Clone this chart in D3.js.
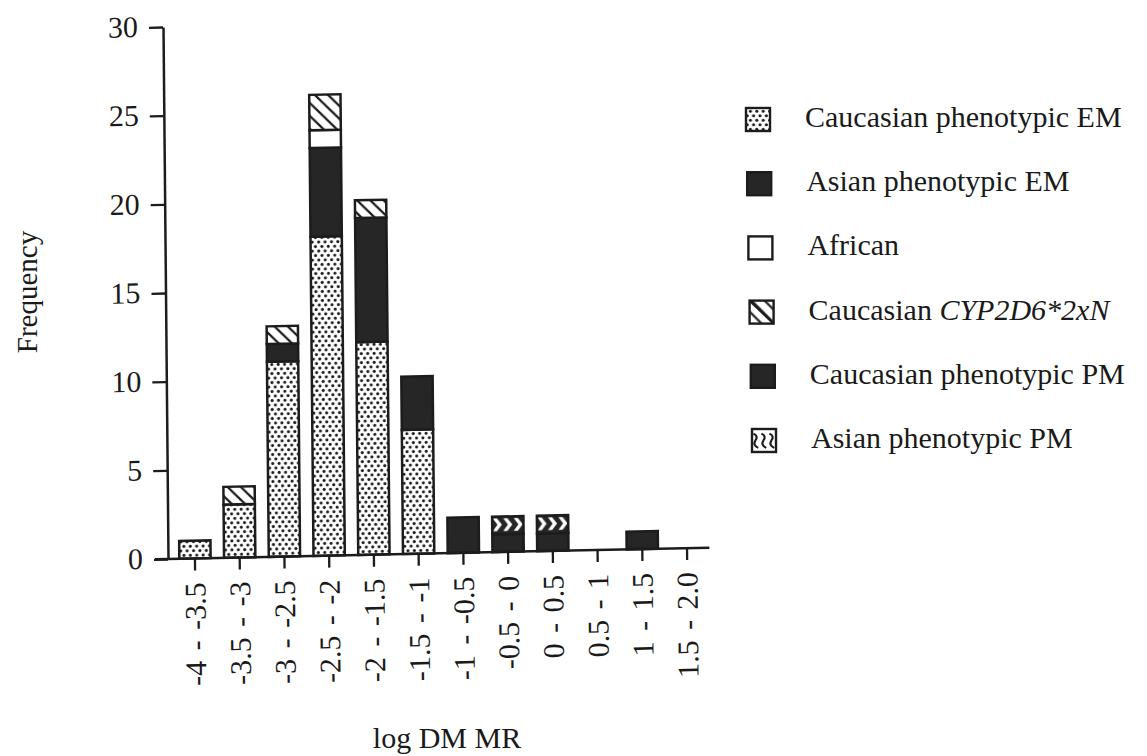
<!DOCTYPE html>
<html>
<head>
<meta charset="utf-8">
<script src="https://cdn.jsdelivr.net/npm/d3@7"></script>
<style>
  html, body { margin: 0; padding: 0; background: #fff; }
  svg { display: block; }
  text { font-family: "Liberation Serif", "Times New Roman", serif; fill: #1a1a1a; }
</style>
</head>
<body>
<svg id="chart" width="1147" height="756"></svg>
<script>
// log DM MR bins (x categories)
const bins = ["-4 - -3.5", "-3.5 - -3", "-3 - -2.5", "-2.5 - -2", "-2 - -1.5", "-1.5 - -1",
              "-1 - -0.5", "-0.5 - 0", "0 - 0.5", "0.5 - 1", "1 - 1.5", "1.5 - 2.0"];

// frequency per bin for each group (stacked bottom to top)
const caucasianEM  = [1, 3, 11, 18, 12, 7, 0, 0, 0, 0, 0, 0];
const asianEM      = [0, 0, 1, 5, 7, 3, 0, 0, 0, 0, 0, 0];
const african      = [0, 0, 0, 1, 0, 0, 0, 0, 0, 0, 0, 0];
const caucasianDup = [0, 1, 1, 2, 1, 0, 0, 0, 0, 0, 0, 0];
const caucasianPM  = [0, 0, 0, 0, 0, 0, 2, 1, 1, 0, 1, 0];
const asianPM      = [0, 0, 0, 0, 0, 0, 0, 1, 1, 0, 0, 0];

const yTicks = [0, 5, 10, 15, 20, 25, 30];

const seriesKeys = ["caucasianEM", "asianEM", "african", "caucasianDup", "caucasianPM", "asianPM"];
const seriesValues = [caucasianEM, asianEM, african, caucasianDup, caucasianPM, asianPM];
const legendLabels = [
  ["Caucasian phenotypic EM"],
  ["Asian phenotypic EM"],
  ["African"],
  ["Caucasian ", "CYP2D6*2xN"],
  ["Caucasian phenotypic PM"],
  ["Asian phenotypic PM"]
];

const table = bins.map((b, i) => {
  const row = { bin: b };
  seriesKeys.forEach((k, j) => row[k] = seriesValues[j][i]);
  return row;
});

const svg = d3.select("#chart");
const ink = "#1c1c1c";

// ---- fill patterns ----
const defs = svg.append("defs");

const dots = defs.append("pattern").attr("id", "dots")
  .attr("patternUnits", "userSpaceOnUse").attr("width", 6.4).attr("height", 9);
dots.append("rect").attr("width", 6.4).attr("height", 9).attr("fill", "#fff");
dots.append("circle").attr("cx", 1.6).attr("cy", 2.2).attr("r", 1.55).attr("fill", ink);
dots.append("circle").attr("cx", 4.8).attr("cy", 6.7).attr("r", 1.55).attr("fill", ink);

const hatch = defs.append("pattern").attr("id", "hatch")
  .attr("patternUnits", "userSpaceOnUse").attr("width", 13).attr("height", 13);
hatch.append("rect").attr("width", 13).attr("height", 13).attr("fill", "#fff");
hatch.append("path").attr("d", "M0,0L13,13M-2,11L2,15M11,-2L15,2")
  .attr("stroke", ink).attr("stroke-width", 2.2);

// white chevrons on dark ground, three across each segment
const chev = defs.append("pattern").attr("id", "chevron")
  .attr("patternUnits", "objectBoundingBox").attr("patternContentUnits", "objectBoundingBox")
  .attr("width", 1 / 3).attr("height", 1);
chev.append("rect").attr("width", 1 / 3).attr("height", 1).attr("fill", "#262626");
chev.append("polygon")
  .attr("points", "0.02,0.10 0.15,0.10 0.31,0.46 0.15,0.82 0.02,0.82 0.17,0.46")
  .attr("fill", "#fff");

// key swatch variant: dark squiggles on white
const chevKey = defs.append("pattern").attr("id", "chevronKey")
  .attr("patternUnits", "objectBoundingBox").attr("patternContentUnits", "objectBoundingBox")
  .attr("width", 1 / 3).attr("height", 1);
chevKey.append("rect").attr("width", 1 / 3).attr("height", 1).attr("fill", "#fff");
chevKey.append("path")
  .attr("d", "M0.06,0.2 Q0.28,0.3 0.14,0.5 Q0.02,0.7 0.26,0.82")
  .attr("fill", "none").attr("stroke", ink).attr("stroke-width", 0.09);

const fills = {
  caucasianEM: "url(#dots)",
  asianEM: "#262626",
  african: "#fff",
  caucasianDup: "url(#hatch)",
  caucasianPM: "#262626",
  asianPM: "url(#chevron)"
};
const keyFills = Object.assign({}, fills, { asianPM: "url(#chevronKey)" });

// ---- scales ----
const originX = 168, originY = 559;
const x = d3.scaleBand().domain(bins).range([172.6, 709.4]).paddingInner(0.3).paddingOuter(0.15);
const y = d3.scaleLinear().domain([0, 30]).range([originY, 27]);

// plot area is slightly sheared
const plot = svg.append("g")
  .attr("transform", `translate(${originX},${originY}) matrix(1,-0.021,0.0094,1,0,0) translate(${-originX},${-originY})`);

// ---- stacked bars ----
const stacked = d3.stack().keys(seriesKeys)(table);
plot.append("g").selectAll("g")
  .data(stacked)
  .join("g")
  .attr("fill", d => fills[d.key])
  .selectAll("rect")
  .data(d => d.filter(s => s[1] - s[0] > 0))
  .join("rect")
  .attr("x", d => x(d.data.bin))
  .attr("width", x.bandwidth())
  .attr("y", d => y(d[1]))
  .attr("height", d => y(d[0]) - y(d[1]))
  .attr("stroke", ink)
  .attr("stroke-width", 2.5);

// ---- y axis ----
const yAxis = plot.append("g")
  .attr("transform", `translate(${originX},0)`)
  .call(d3.axisLeft(y).tickValues(yTicks).tickSize(14).tickSizeOuter(0).tickPadding(11));
yAxis.select(".domain").attr("stroke", ink).attr("stroke-width", 2.5);
yAxis.selectAll(".tick line").attr("stroke", ink).attr("stroke-width", 2.3);
yAxis.selectAll(".tick text")
  .attr("font-size", 30).attr("font-family", "Liberation Serif").attr("fill", ink).attr("dy", "0.3em");

// ---- x axis ----
const xAxis = plot.append("g")
  .attr("transform", `translate(0,${originY})`)
  .call(d3.axisBottom(x).tickSize(12).tickSizeOuter(0));
xAxis.select(".domain").remove();
xAxis.append("line")
  .attr("x1", originX - 13).attr("x2", x.range()[1])
  .attr("stroke", ink).attr("stroke-width", 2.5);
xAxis.selectAll(".tick line").attr("stroke", ink).attr("stroke-width", 2.3);
xAxis.selectAll(".tick text")
  .attr("font-size", 30).attr("font-family", "Liberation Serif").attr("fill", ink)
  .attr("transform", "rotate(-90)")
  .attr("x", -24).attr("y", 0).attr("dy", "0.34em")
  .attr("text-anchor", "end")
  .style("word-spacing", "3px");

// ---- axis titles ----
svg.append("text")
  .attr("transform", "translate(37,292) rotate(-90)")
  .attr("text-anchor", "middle")
  .attr("font-size", 29)
  .text("Frequency");

svg.append("text")
  .attr("x", 447).attr("y", 748)
  .attr("text-anchor", "middle")
  .attr("font-size", 30)
  .text("log DM MR");

// ---- legend ----
const legend = svg.append("g");
const rowY = d3.scaleLinear().domain([0, 5]).range([127, 448]);
const items = legend.selectAll("g").data(seriesKeys).join("g")
  .attr("transform", (d, i) => `translate(${i * 1.2},${rowY(i)})`);

items.append("rect")
  .attr("x", 746).attr("y", -19).attr("width", 24).attr("height", 23)
  .attr("fill", d => keyFills[d])
  .attr("stroke", ink).attr("stroke-width", 2.4);

items.filter(d => d === "caucasianDup").append("line")
  .attr("x1", 746).attr("y1", -19).attr("x2", 770).attr("y2", 4)
  .attr("stroke", ink).attr("stroke-width", 2.2);

items.append("text")
  .attr("x", 805).attr("y", 0)
  .attr("font-size", 30)
  .each(function (d, i) {
    const t = d3.select(this);
    legendLabels[i].forEach((part, j) => {
      t.append("tspan").attr("font-style", j === 1 ? "italic" : "normal").text(part);
    });
  });
</script>
</body>
</html>
